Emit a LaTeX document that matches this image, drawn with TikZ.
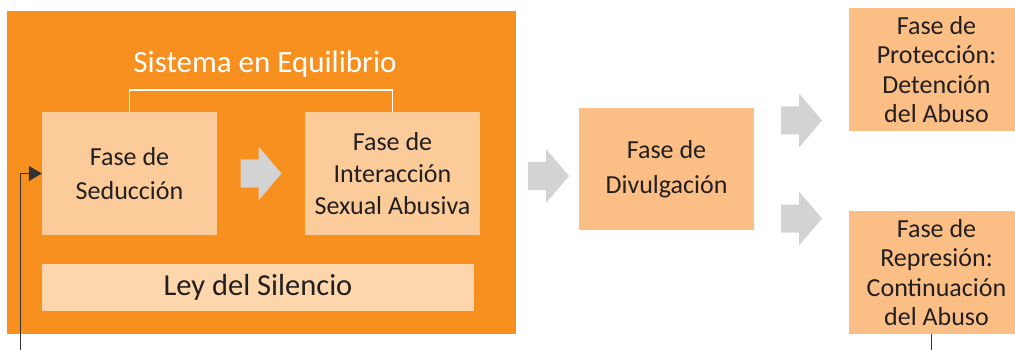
\documentclass[tikz,border=0pt]{standalone}
\usepackage{fontspec}
\setmainfont{Carlito}
\usetikzlibrary{arrows.meta,calc}
\definecolor{bigorange}{HTML}{F7901E}
\definecolor{innerbox}{HTML}{FBCB9A}
\definecolor{leybox}{HTML}{FDD6AC}
\definecolor{phasebox}{HTML}{FBBF85}
\definecolor{arrowgray}{HTML}{D3D3D3}
\definecolor{txt}{HTML}{231F20}
\definecolor{fbline}{HTML}{333333}
\tikzset{
  phase/.style={fill=#1, draw=none, inner sep=0pt, minimum width=175pt, minimum height=123pt,
    align=center, text=txt, font=\fontsize{26}{32}\selectfont},
  tight/.style={font=\fontsize{26}{29.5}\selectfont},
  grayarrow/.pic={\fill[arrowgray] (-20.5,-14) -- (-2.5,-14) -- (-2.5,-27) -- (20.5,0) -- (-2.5,27) -- (-2.5,14) -- (-20.5,14) -- cycle;},
  fb/.style={draw=fbline, line width=1pt}
}
\begin{document}
\begin{tikzpicture}[x=1pt,y=-1pt]
\useasboundingbox (0,0) rectangle (1015,350);
\node[fill=bigorange, inner sep=0pt, minimum width=509pt, minimum height=323pt] (big) at (261.5,172.5) {};
\node[phase=innerbox, font=\fontsize{26}{34}\selectfont] (sed) at (129.5,173.5) {Fase de\\Seducción};
\node[phase=innerbox] (int) at (392.5,173.5) {Fase de\\Interacción\\Sexual Abusiva};
\node[fill=leybox, inner sep=0pt, minimum width=432pt, minimum height=47pt, text=txt, font=\fontsize{30.5}{34}\selectfont] (ley) at (258,287.5) {Ley del Silencio};
\node[text=white, font=\fontsize{31}{34}\selectfont] (title) at (265,64) {Sistema en Equilibrio};
\draw[white, line width=1.5pt] (sed.north) -- ++(0,-22) -| (int.north);
\node[phase=phasebox, minimum height=122pt, font=\fontsize{26}{35}\selectfont] (div) at (666.5,169) {Fase de\\Divulgación};
\node[phase=phasebox, tight] (prot) at (936.5,69.5) {Fase de\\Protección:\\Detención\\del Abuso};
\node[phase=phasebox, tight] (rep) at (936.5,272.5) {Fase de\\Represión:\\Continuación\\del Abuso};
\pic at ($(sed.east)!0.5!(int.west)$) {grayarrow};
\pic at (548.5,176) {grayarrow};
\pic at (801.5,120.5) {grayarrow};
\pic at (801.5,218.5) {grayarrow};
\coordinate (fbr) at (931,350);
\coordinate (fbl) at (20,350);
\draw[fb] (rep.south -| fbr) -- (fbr);
\draw[fb, -{Triangle[length=13pt,width=15pt]}] (fbl) |- (sed.west);
\end{tikzpicture}
\end{document}
